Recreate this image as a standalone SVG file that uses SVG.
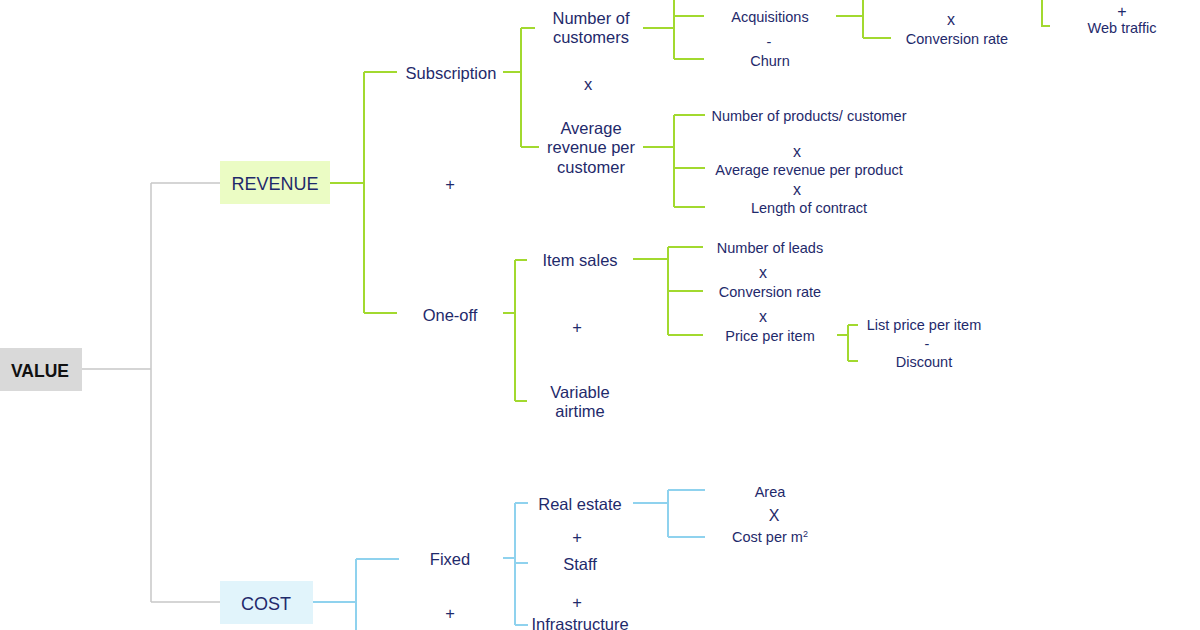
<svg xmlns="http://www.w3.org/2000/svg" width="1200" height="630" viewBox="0 0 1200 630">
<style>
text{font-family:"Liberation Sans",Arial,sans-serif;fill:#1f2a6b;text-anchor:middle}
.l2{font-size:16.5px}
.l4{font-size:14.5px}
.op{font-size:16px}
.g{stroke:#c8c8c8;stroke-width:1.5;fill:none}
.gr{stroke:#a2d92f;stroke-width:2;fill:none}
.bl{stroke:#8fd2ee;stroke-width:2;fill:none}
</style>
<rect width="1200" height="630" fill="#ffffff"/>
<g id="connectors">
<path class="g" d="M82 369H151M151 183V602M151 183H220M151 602H220"/>
<path class="gr" d="M330 183H364M364 72V313M364 72H397M364 313H397"/>
<path class="gr" d="M503 72H521M521 28V147M521 28H535M521 147H539"/>
<path class="gr" d="M643 28H674M674 0V59M674 16H704M674 59H704"/>
<path class="gr" d="M836 16H863M863 0V38M863 38H891"/>
<path class="gr" d="M1042 0V26H1050"/>
<path class="gr" d="M643 147H674M674 115V207M674 115H705M674 168H705M674 207H705"/>
<path class="gr" d="M503 313H515M515 260V401M515 260H527M515 401H527"/>
<path class="gr" d="M633 259H668M668 247V335M668 247H703M668 291H703M668 335H703"/>
<path class="gr" d="M837 335H848M848 325V361M848 325H858M848 361H858"/>
<path class="bl" d="M313 602H356M356 559V632M356 559H399"/>
<path class="bl" d="M503 558H515M515 503V625M515 503H528M515 563H528M515 625H528"/>
<path class="bl" d="M633 503H668M668 490V537M668 490H705M668 537H705"/>
</g>
<g id="value"><rect x="0" y="348" width="82" height="43" fill="#d9d9d9"/><text x="40" y="377" style="font-size:17.5px;font-weight:bold;fill:#111111">VALUE</text></g>
<g id="revenue"><rect x="220" y="161" width="110" height="43" fill="#ebfcc4"/><text x="275" y="189.5" style="font-size:18px">REVENUE</text></g>
<g id="cost"><rect x="220" y="581" width="93" height="43" fill="#e1f4fb"/><text x="266" y="609.5" style="font-size:18px">COST</text></g>
<g id="subscription"><text class="l2" x="451" y="79">Subscription</text></g>
<g id="op-rev"><text class="l2" x="450" y="190">+</text></g>
<g id="oneoff"><text class="l2" x="450" y="321">One-off</text></g>
<g id="num-customers"><text class="l2" x="591" y="24">Number of</text><text class="l2" x="591" y="43">customers</text></g>
<g id="op-sub"><text class="l2" x="588" y="90">x</text></g>
<g id="avg-rev-customer"><text class="l2" x="591" y="134">Average</text><text class="l2" x="591" y="153">revenue per</text><text class="l2" x="591" y="173">customer</text></g>
<g id="acquisitions"><text class="l4" x="770" y="22">Acquisitions</text></g>
<g id="op-churn"><text class="l4" x="769" y="47">-</text></g>
<g id="churn"><text class="l4" x="770" y="66">Churn</text></g>
<g id="op-acq"><text class="op" x="951" y="25">x</text></g>
<g id="conv-rate-1"><text class="l4" x="957" y="44">Conversion rate</text></g>
<g id="op-web"><text class="op" x="1122" y="17">+</text></g>
<g id="web-traffic"><text class="l4" x="1122" y="33">Web traffic</text></g>
<g id="products-customer"><text class="l4" x="809" y="121">Number of products/ customer</text></g>
<g id="op-arpc1"><text class="op" x="797" y="157">x</text></g>
<g id="avg-rev-product"><text class="l4" x="809" y="175">Average revenue per product</text></g>
<g id="op-arpc2"><text class="op" x="797" y="195">x</text></g>
<g id="length-contract"><text class="l4" x="809" y="213">Length of contract</text></g>
<g id="item-sales"><text class="l2" x="580" y="266">Item sales</text></g>
<g id="op-oneoff"><text class="l2" x="577" y="333">+</text></g>
<g id="variable-airtime"><text class="l2" x="580" y="398">Variable</text><text class="l2" x="580" y="417">airtime</text></g>
<g id="num-leads"><text class="l4" x="770" y="253">Number of leads</text></g>
<g id="op-item1"><text class="op" x="763" y="278">x</text></g>
<g id="conv-rate-2"><text class="l4" x="770" y="297">Conversion rate</text></g>
<g id="op-item2"><text class="op" x="763" y="322">x</text></g>
<g id="price-item"><text class="l4" x="770" y="341">Price per item</text></g>
<g id="list-price"><text class="l4" x="924" y="330">List price per item</text></g>
<g id="op-price"><text class="l4" x="927" y="349">-</text></g>
<g id="discount"><text class="l4" x="924" y="367">Discount</text></g>
<g id="fixed"><text class="l2" x="450" y="565">Fixed</text></g>
<g id="op-cost"><text class="l2" x="450" y="619">+</text></g>
<g id="real-estate"><text class="l2" x="580" y="510">Real estate</text></g>
<g id="op-fixed1"><text class="l2" x="577" y="543">+</text></g>
<g id="staff"><text class="l2" x="580" y="570">Staff</text></g>
<g id="op-fixed2"><text class="l2" x="577" y="608">+</text></g>
<g id="infrastructure"><text class="l2" x="580" y="630">Infrastructure</text></g>
<g id="area"><text class="l4" x="770" y="497">Area</text></g>
<g id="op-re"><text class="op" x="774" y="521">X</text></g>
<g id="cost-m2"><text class="l4" x="770" y="542">Cost per m<tspan dy="-5" style="font-size:9px">2</tspan></text></g>
</svg>
